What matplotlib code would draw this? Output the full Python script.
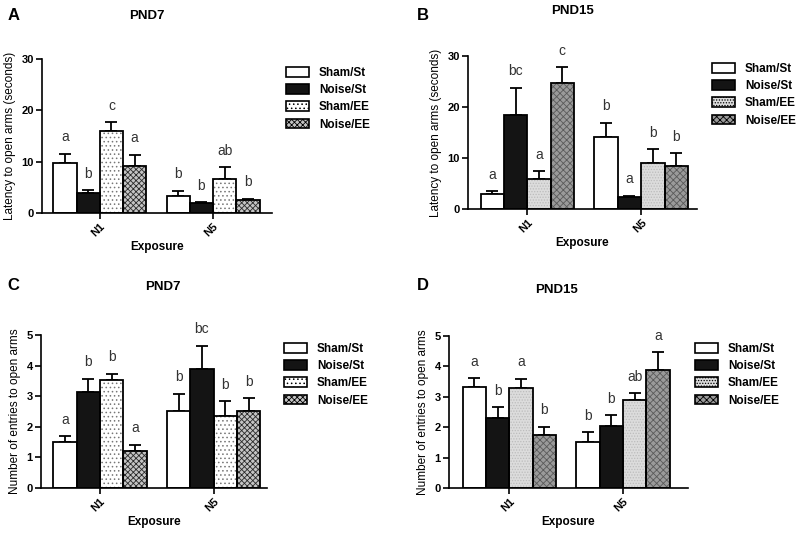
import matplotlib
matplotlib.use("Agg")
import matplotlib.pyplot as plt
import numpy as np
from matplotlib.patches import Patch

plt.rcParams['font.family'] = ['Liberation Sans', 'DejaVu Sans']
plt.rcParams['hatch.linewidth'] = 0.6

groups = ["N1", "N5"]
series = ["Sham/St", "Noise/St", "Sham/EE", "Noise/EE"]

# Panel A: PND7 latency (seconds)
a_mean = [[9.7, 3.8, 16.0, 9.2], [3.4, 1.9, 6.7, 2.6]]
a_top = [[11.5, 4.4, 17.6, 11.3], [4.3, 2.1, 8.9, 2.8]]
a_letters = [["a", "b", "c", "a"], ["b", "b", "ab", "b"]]

# Panel B: PND15 latency (seconds)
b_mean = [[3.0, 18.5, 5.8, 24.8], [14.1, 2.3, 9.1, 8.4]]
b_top = [[3.5, 23.8, 7.4, 27.8], [16.9, 2.6, 11.7, 10.9]]
b_letters = [["a", "bc", "a", "c"], ["b", "a", "b", "b"]]

# Panel C: PND7 entries
c_mean = [[1.50, 3.15, 3.52, 1.22], [2.51, 3.88, 2.34, 2.52]]
c_top = [[1.69, 3.57, 3.73, 1.42], [3.08, 4.65, 2.84, 2.94]]
c_letters = [["a", "b", "b", "a"], ["b", "bc", "b", "b"]]

# Panel D: PND15 entries
d_mean = [[3.31, 2.31, 3.29, 1.74], [1.51, 2.04, 2.90, 3.88]]
d_top = [[3.61, 2.66, 3.59, 2.02], [1.84, 2.39, 3.12, 4.47]]
d_letters = [["a", "b", "a", "b"], ["b", "b", "ab", "a"]]

# styles: (facecolor, hatch, hatchcolor)
style_7 = [("white", None, None), ("#141414", None, None),
           ("white", "....", "#777777"), ("#c4c4c4", "xxxxxx", "#2a2a2a")]
style_15 = [("white", None, None), ("#141414", None, None),
            ("#dcdcdc", "......", "#bcbcbc"), ("#9a9a9a", "xxxxx", "#5a5a5a")]

fig = plt.figure(figsize=(7.97, 5.37), dpi=100)
W, H = 797.0, 537.0


def fx(px):
    return px / W


def fy(py):
    return 1 - py / H


panels = [
    dict(data=(a_mean, a_top, a_letters), style=style_7, box=(42, 58.7, 272, 213),
         xlim=(-0.51, 1.52), ylim=(0, 30), yticks=[0, 10, 20, 30],
         ylabel="Latency to open arms (seconds)", title="PND7", letter="A",
         tpos=(147, 16), lpos=(8, 16), leg=(281, 62)),
    dict(data=(b_mean, b_top, b_letters), style=style_15, box=(468, 56, 697, 209),
         xlim=(-0.52, 1.49), ylim=(0, 30), yticks=[0, 10, 20, 30],
         ylabel="Latency to open arms (seconds)", title="PND15", letter="B",
         tpos=(572, 11), lpos=(417, 15), leg=(707, 58)),
    dict(data=(c_mean, c_top, c_letters), style=style_7, box=(41, 335, 267, 488),
         xlim=(-0.52, 1.47), ylim=(0, 5), yticks=[0, 1, 2, 3, 4, 5],
         ylabel="Number of entries to open arms", title="PND7", letter="C",
         tpos=(163, 287), lpos=(7, 285), leg=(279, 338)),
    dict(data=(d_mean, d_top, d_letters), style=style_15, box=(449, 336, 688, 488),
         xlim=(-0.53, 1.57), ylim=(0, 5), yticks=[0, 1, 2, 3, 4, 5],
         ylabel="Number of entries to open arms", title="PND15", letter="D",
         tpos=(556, 290), lpos=(417, 285), leg=(690, 338)),
]

bw = 0.205
offsets = (np.arange(4) - 1.5) * bw
xg = np.arange(len(groups))

for p in panels:
    mean, top, letters = p["data"]
    mean = np.array(mean)
    top = np.array(top)
    l, t, r, b = p["box"]
    ax = fig.add_axes([fx(l), fy(b), fx(r) - fx(l), fy(t) - fy(b)])
    for i, s in enumerate(series):
        fc, hatch, hc = p["style"][i]
        xs = xg + offsets[i]
        vals = mean[:, i]
        ax.bar(xs, vals, bw, color=fc, hatch=hatch, edgecolor=hc if hc else fc,
               linewidth=0, zorder=2)
        ax.bar(xs, vals, bw, fill=False, edgecolor="black", linewidth=1.3, zorder=3)
        ax.errorbar(xs, vals, yerr=[np.zeros(len(xs)), top[:, i] - vals], fmt="none",
                    ecolor="black", elinewidth=1.3, capsize=4.5, capthick=1.3, zorder=1)
        for j in range(len(xs)):
            ax.annotate(letters[j][i], (xs[j], top[j, i]), xytext=(0, 9),
                        textcoords="offset points", ha="center", va="baseline",
                        fontsize=10, color="#333333")
    ax.set_xlim(*p["xlim"])
    ax.set_ylim(*p["ylim"])
    ax.set_yticks(p["yticks"])
    ax.set_xticks(xg)
    ax.set_xticklabels(groups, rotation=45, ha="right", rotation_mode="anchor",
                       fontweight="bold", fontsize=8)
    for lab in ax.get_yticklabels():
        lab.set_fontweight("bold")
        lab.set_fontsize(8)
    ax.spines["top"].set_visible(False)
    ax.spines["right"].set_visible(False)
    ax.spines["left"].set_linewidth(1.2)
    ax.spines["bottom"].set_linewidth(1.2)
    ax.tick_params(axis="both", width=1.2, length=4, pad=2, color="black")
    ax.set_ylabel(p["ylabel"], fontsize=8.5, labelpad=4)
    ax.set_xlabel("Exposure", fontsize=8.5, fontweight="bold", labelpad=2)
    fig.text(fx(p["tpos"][0]), fy(p["tpos"][1]), p["title"], ha="center", va="center",
             fontsize=9.5, fontweight="bold")
    fig.text(fx(p["lpos"][0]), fy(p["lpos"][1]), p["letter"], ha="left",
             va="center", fontsize=12, fontweight="bold")
    handles = []
    for i, s in enumerate(series):
        fc, hatch, hc = p["style"][i]
        handles.append(Patch(facecolor=fc, hatch=hatch, edgecolor="black",
                             linewidth=1.2, label=s))
    ax.legend(handles=handles, loc="upper left",
              bbox_to_anchor=(fx(p["leg"][0]), fy(p["leg"][1])),
              bbox_transform=fig.transFigure, frameon=False,
              prop=dict(weight="bold", size=8.5), handlelength=2.0, handleheight=0.9,
              labelspacing=0.45, handletextpad=0.8, borderaxespad=0)

fig.savefig("out.png", dpi=100)
